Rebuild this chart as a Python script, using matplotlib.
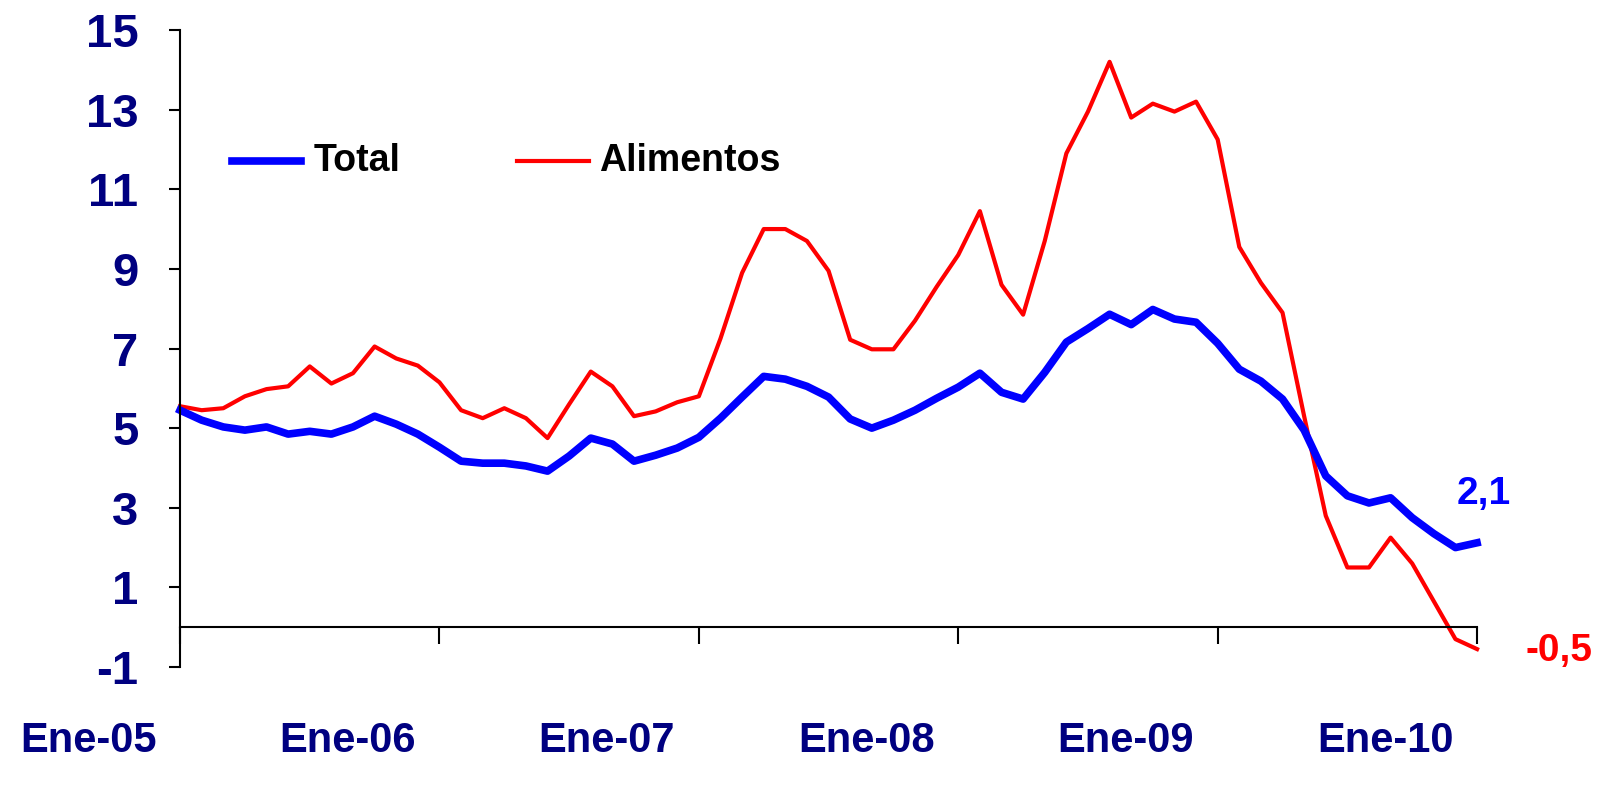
import numpy as np
import matplotlib.pyplot as plt

plt.rcParams['font.family'] = ['Liberation Sans', 'DejaVu Sans']

total = [5.45, 5.2, 5.03, 4.95, 5.03, 4.85, 4.92, 4.85, 5.03, 5.3, 5.1, 4.85,
         4.52, 4.17, 4.12, 4.12, 4.05, 3.92, 4.3, 4.75, 4.6, 4.17, 4.32, 4.5,
         4.77, 5.25, 5.78, 6.3, 6.23, 6.05, 5.78, 5.23, 5.0, 5.2, 5.45, 5.75,
         6.03, 6.38, 5.9, 5.73, 6.4, 7.16, 7.5, 7.86, 7.6, 7.98, 7.74, 7.66,
         7.13, 6.48, 6.18, 5.73, 4.95, 3.8, 3.3, 3.12, 3.25, 2.75, 2.35, 2.0, 2.12]
alimentos = [5.55, 5.45, 5.5, 5.8, 5.98, 6.05, 6.55, 6.12, 6.38, 7.05, 6.75, 6.57,
             6.15, 5.45, 5.25, 5.5, 5.25, 4.75, 5.6, 6.42, 6.05, 5.3, 5.42, 5.65,
             5.8, 7.25, 8.9, 10.0, 10.0, 9.7, 8.95, 7.22, 6.98, 6.98, 7.7, 8.55,
             9.35, 10.45, 8.6, 7.85, 9.7, 11.9, 12.95, 14.2, 12.8, 13.15, 12.95, 13.2,
             12.25, 9.55, 8.65, 7.9, 5.3, 2.8, 1.5, 1.5, 2.25, 1.6, 0.65, -0.3, -0.55]
year_labels = ['Ene-05', 'Ene-06', 'Ene-07', 'Ene-08', 'Ene-09', 'Ene-10']
yticks = [-1, 1, 3, 5, 7, 9, 11, 13, 15]

navy = '#000080'
x = np.arange(len(total))

fig = plt.figure(figsize=(16.12, 7.89), dpi=100)
ax = fig.add_axes([0.1117, 0.1546, 0.8046, 0.8074])
ax.plot(x, alimentos, color='#ff0000', lw=3, clip_on=False)
ax.plot(x, total, color='#0000ff', lw=5.5, clip_on=False)
ax.set_xlim(0, 60)
ax.set_ylim(-1, 15)

ax.spines['top'].set_visible(False)
ax.spines['right'].set_visible(False)
ax.spines['bottom'].set_position(('data', 0))
ax.spines['left'].set_linewidth(1.5)
ax.spines['bottom'].set_linewidth(1.5)
ax.set_yticks(yticks)
ax.set_yticklabels([str(v) for v in yticks], fontsize=34, fontweight='bold', color=navy)
ax.tick_params(axis='y', length=8, width=1.5, pad=22)
ax.set_xticks(np.arange(0, 61, 12))
ax.set_xticklabels([])
ax.tick_params(axis='x', direction='out', length=12, width=1.5)

for i, lab in enumerate(year_labels):
    ax.text(i * 12 - 4.25, -2.85, lab, ha='center', va='center', fontsize=30,
            fontweight='bold', color=navy, clip_on=False)

ax.text(60.3, 3.35, '2,1', ha='center', va='center', fontsize=28, fontweight='bold', color='#0000ff')
ax.text(63.8, -0.6, '-0,5', ha='center', va='center', fontsize=28, fontweight='bold', color='#ff0000')

# legend drawn by hand
ax.plot([2.4, 5.6], [11.7, 11.7], color='#0000ff', lw=5.5)
ax.text(6.2, 11.7, 'Total', va='center', fontsize=27, fontweight='bold')
ax.plot([15.6, 18.9], [11.7, 11.7], color='#ff0000', lw=3)
ax.text(19.4, 11.7, 'Alimentos', va='center', fontsize=27, fontweight='bold')

fig.savefig('out.png', dpi=100)
